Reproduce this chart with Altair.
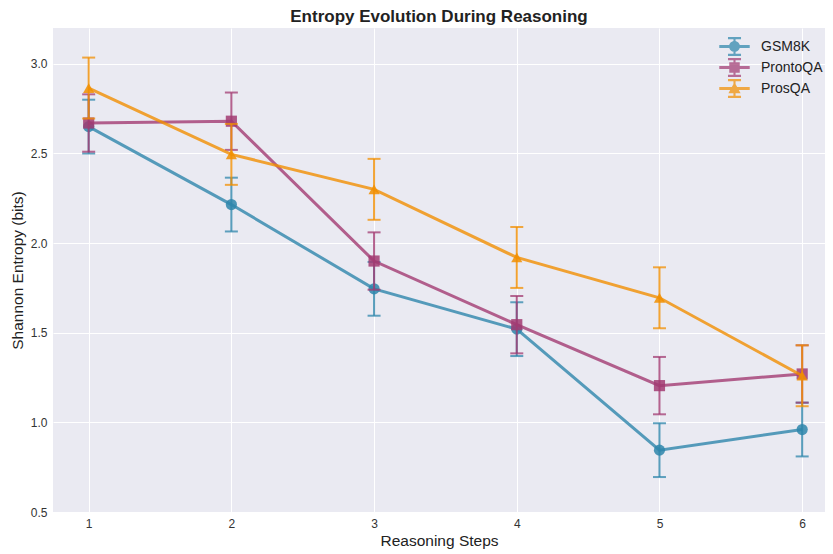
import altair as alt
import pandas as pd

steps = [1, 2, 3, 4, 5, 6]
datasets = ["GSM8K", "ProntoQA", "ProsQA"]
gsm8k = [2.65, 2.215, 1.745, 1.52, 0.845, 0.96]
gsm8k_err = [0.15, 0.15, 0.15, 0.15, 0.15, 0.15]
prontoqa = [2.67, 2.68, 1.90, 1.545, 1.205, 1.27]
prontoqa_err = [0.16, 0.16, 0.16, 0.16, 0.16, 0.16]
prosqa = [2.865, 2.495, 2.30, 1.92, 1.695, 1.26]
prosqa_err = [0.17, 0.17, 0.17, 0.17, 0.17, 0.17]

colors = ["#2E86AB", "#A23B72", "#F18F01"]
shapes = ["circle", "square", "triangle-up"]

# legend glyphs: line + error bar + marker, as filled SVG paths
LINE = "M-1.45,-0.14H1.45V0.14H-1.45Z"
ERR = ("M-0.1,-0.8H0.1V0.8H-0.1Z"
       "M-0.62,-0.9H0.62V-0.7H-0.62Z"
       "M-0.62,0.7H0.62V0.9H-0.62Z")
MARK_C = "M0.52,0A0.52,0.52 0 1,1 -0.52,0A0.52,0.52 0 1,1 0.52,0Z"
MARK_S = "M-0.5,-0.5H0.5V0.5H-0.5Z"
MARK_T = "M0,-0.6L0.58,0.45H-0.58Z"
legend_glyphs = [LINE + ERR + MARK_C, LINE + ERR + MARK_S, LINE + ERR + MARK_T]

rows = []
for name, vals, errs in [("GSM8K", gsm8k, gsm8k_err),
                         ("ProntoQA", prontoqa, prontoqa_err),
                         ("ProsQA", prosqa, prosqa_err)]:
    for s, v, e in zip(steps, vals, errs):
        rows.append({"step": s, "dataset": name, "entropy": v, "err": e})
df = pd.DataFrame(rows)

FONT = "Liberation Sans"

x = alt.X("step:Q", title="Reasoning Steps",
          scale=alt.Scale(domain=[0.75, 6.16], nice=False, zero=False),
          axis=alt.Axis(values=steps, format="d", grid=True, gridColor="white",
                        gridWidth=1, domain=False, ticks=False, labelPadding=6,
                        labelFontSize=12, labelColor="#333", titleFontSize=15.5,
                        titleFontWeight="normal", titleColor="#222", titlePadding=4,
                        labelFont=FONT, titleFont=FONT))
y = alt.Y("entropy:Q", title="Shannon Entropy (bits)",
          scale=alt.Scale(domain=[0.5, 3.2], nice=False, zero=False),
          axis=alt.Axis(values=[0.5, 1.0, 1.5, 2.0, 2.5, 3.0], format=".1f", grid=True,
                        gridColor="white", gridWidth=1, domain=False, ticks=False,
                        labelPadding=6, labelFontSize=12, labelColor="#333",
                        titleFontSize=15.5, titleFontWeight="normal", titleColor="#222",
                        titlePadding=5, labelFont=FONT, titleFont=FONT))

color = alt.Color("dataset:N", scale=alt.Scale(domain=datasets, range=colors),
                  legend=alt.Legend(title=None, orient="none", legendX=671, legendY=8,
                                    padding=0, labelFontSize=14, labelFont=FONT,
                                    labelColor="#222", labelOffset=16,
                                    symbolSize=441, symbolOpacity=0.85, rowPadding=1,
                                    symbolStrokeWidth=0))

base = alt.Chart(df).transform_calculate(
    lo="datum.entropy - datum.err", hi="datum.entropy + datum.err")

layers = []
for name, shp in zip(datasets, shapes):
    b = base.transform_filter(alt.datum.dataset == name)
    bars = b.mark_rule(strokeWidth=2, opacity=0.8).encode(
        x=x, y="lo:Q", y2="hi:Q", color=color)
    cap_lo = b.mark_tick(orient="horizontal", size=13, thickness=2, opacity=0.75).encode(
        x=x, y="lo:Q", color=color)
    cap_hi = b.mark_tick(orient="horizontal", size=13, thickness=2, opacity=0.75).encode(
        x=x, y="hi:Q", color=color)
    line = b.mark_line(strokeWidth=3, opacity=0.8).encode(
        x=x, y=y, color=color, order="step:Q")
    pts = b.mark_point(filled=True, size=125, opacity=0.85, shape=shp).encode(
        x=x, y=y, color=color)
    layers += [bars, cap_lo, cap_hi, line, pts]

# carries the legend only: its rows are filtered out, the scales' domains are fixed
legend_layer = base.transform_filter("false").mark_point(filled=True, opacity=0.85).encode(
    x=x, y=y, color=color,
    shape=alt.Shape("dataset:N", scale=alt.Scale(domain=datasets, range=legend_glyphs)))
layers.append(legend_layer)

chart = alt.layer(*layers).properties(
    width=772, height=484,
    title=alt.Title("Entropy Evolution During Reasoning", fontSize=17, fontWeight="bold",
                    font=FONT, color="#222", offset=2),
    autosize=alt.AutoSizeParams(type="none"),
    padding={"left": 45, "top": 20, "right": 0, "bottom": 38},
).configure_view(fill="#EAEAF2", stroke=None)

chart.save("out.html", embed_options={"renderer": "svg", "actions": False})
